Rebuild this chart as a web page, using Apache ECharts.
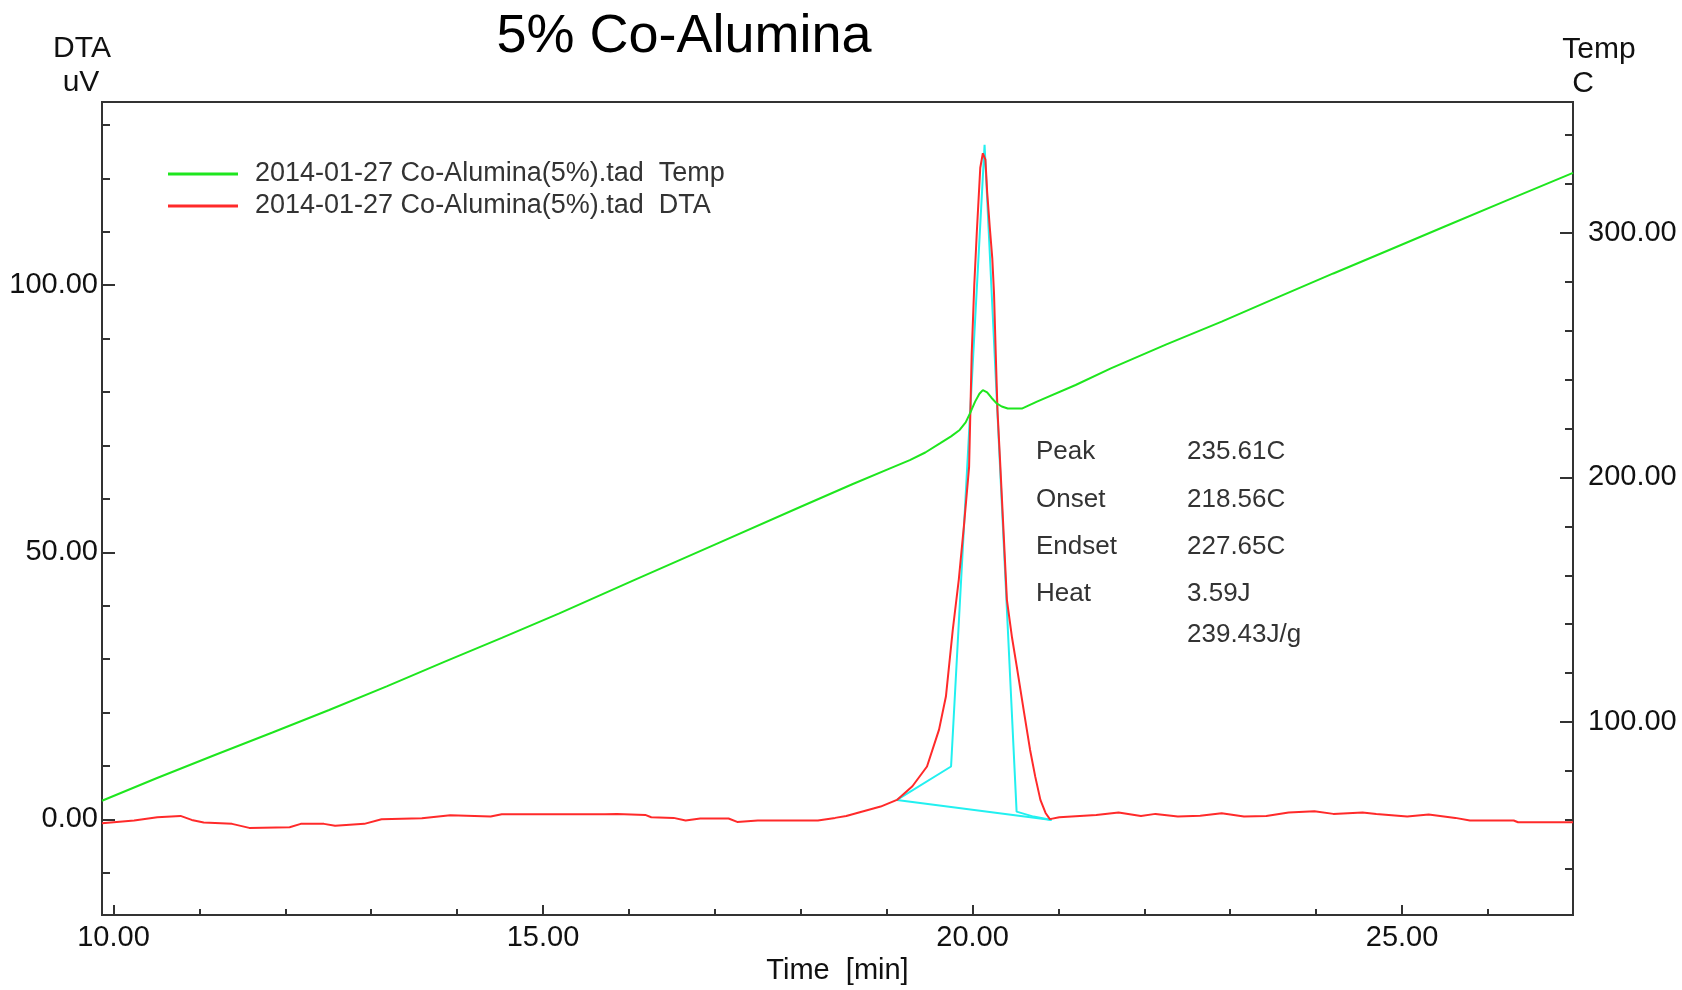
<!DOCTYPE html>
<html>
<head>
<meta charset="utf-8">
<script src="https://cdn.jsdelivr.net/npm/echarts@6/dist/echarts.min.js"></script>
<style>
html,body{margin:0;padding:0;background:#fff;}
#chart{width:1682px;height:990px;}
</style>
</head>
<body>
<div id="chart"></div>
<script>
// ---- data ----
const titleText = '5% Co-Alumina';
const tempName = '2014-01-27 Co-Alumina(5%).tad  Temp';
const dtaName = '2014-01-27 Co-Alumina(5%).tad  DTA';

// Temperature [time(min), C]
const tempPoints = [
  [9.866, 67.8], [10.5, 77.0], [11.18, 86.5], [11.85, 95.7], [12.51, 104.9],
  [13.18, 114.6], [13.85, 124.6], [14.52, 134.4], [15.19, 144.4], [16.06, 158.0],
  [17.0, 172.5], [18.0, 188.0], [18.6, 197.2], [19.04, 203.7], [19.27, 207.1],
  [19.45, 210.2], [19.62, 213.9], [19.75, 216.8], [19.85, 219.4], [19.92, 222.5],
  [19.97, 226.2], [20.03, 231.0], [20.08, 234.2], [20.12, 235.7], [20.17, 234.8],
  [20.22, 232.6], [20.28, 230.3], [20.34, 229.0], [20.41, 228.2], [20.58, 228.2],
  [20.75, 231.0], [21.2, 237.8], [21.61, 244.6], [22.25, 254.3], [22.90, 263.7],
  [23.55, 273.6], [24.20, 283.4], [24.85, 293.0], [25.49, 302.5], [26.2, 313.0],
  [26.99, 324.5]
];

// DTA [time(min), uV]
const dtaPoints = [
  [9.866, -0.72], [10.24, -0.22], [10.51, 0.41], [10.78, 0.65], [10.91, -0.1],
  [11.05, -0.6], [11.38, -0.84], [11.58, -1.59], [12.05, -1.46], [12.18, -0.84],
  [12.45, -0.84], [12.58, -1.2], [12.92, -0.84], [13.12, 0.04], [13.59, 0.22],
  [13.92, 0.78], [14.39, 0.53], [14.52, 0.97], [15.72, 0.97], [15.86, 1.03],
  [16.19, 0.84], [16.26, 0.41], [16.52, 0.28], [16.66, -0.22], [16.83, 0.16],
  [17.16, 0.16], [17.26, -0.47], [17.50, -0.22], [18.20, -0.22], [18.40, 0.28],
  [18.53, 0.65], [18.73, 1.53], [18.93, 2.4], [19.12, 3.65], [19.30, 6.2],
  [19.47, 9.9], [19.61, 16.8], [19.69, 23.0], [19.77, 35.5], [19.84, 44.9],
  [19.90, 55.0], [19.96, 66.0], [19.99, 87.0], [20.02, 100.0], [20.05, 110.0],
  [20.09, 122.0], [20.12, 124.7], [20.15, 123.5], [20.17, 117.5], [20.20, 111.0],
  [20.23, 105.0], [20.25, 98.5], [20.27, 87.3], [20.29, 76.7], [20.32, 67.3],
  [20.40, 41.1], [20.46, 34.0], [20.515, 28.6], [20.60, 20.0], [20.67, 13.0],
  [20.73, 8.0], [20.79, 3.65], [20.85, 1.2], [20.90, 0.05], [21.01, 0.4],
  [21.44, 0.84], [21.70, 1.28], [21.96, 0.65], [22.13, 1.03], [22.39, 0.53],
  [22.65, 0.7], [22.90, 1.16], [23.16, 0.53], [23.42, 0.65], [23.68, 1.28],
  [23.98, 1.53], [24.20, 1.03], [24.54, 1.28], [24.70, 1.03], [25.06, 0.53],
  [25.31, 0.9], [25.62, 0.28], [25.79, -0.2], [26.30, -0.2], [26.35, -0.53],
  [26.99, -0.53]
];

// Peak analysis construction lines (cyan)
const peakConstruction = [[19.12, 3.65], [19.75, 9.9], [20.14, 126.3], [20.513, 1.46], [20.71, 0.52], [20.92, -0.1]];
const peakBaseline = [[19.12, 3.65], [20.92, -0.1]];

// Axis ranges and ticks
const xRange = [9.866, 26.99];
const dtaRange = [-17.9, 134.3];
const tempRange = [21.1, 353.5];
const xMajorTicks = [10, 15, 20, 25];
const xMinorTicks = [11, 12, 13, 14, 16, 17, 18, 19, 21, 22, 23, 24, 26];
const dtaMajorTicks = [0, 50, 100];
const dtaMinorTicks = [-10, 10, 20, 30, 40, 60, 70, 80, 90, 110, 120, 130];
const tempMajorTicks = [100, 200, 300];
const tempMinorTicks = [40, 60, 80, 120, 140, 160, 180, 220, 240, 260, 280, 320, 340];

// Peak analysis results
const resultLabels = ['Peak', 'Onset', 'Endset', 'Heat', ''];
const resultValues = ['235.61C', '218.56C', '227.65C', '3.59J', '239.43J/g'];

// ---- chart ----
const FONT = '"Liberation Sans", Arial, sans-serif';
const axisColor = '#333';
const chart = echarts.init(document.getElementById('chart'), null, {renderer: 'canvas'});

function majorAxis(extra) {
  return Object.assign({
    type: 'value',
    axisLine: {show: true, onZero: false, lineStyle: {color: axisColor, width: 2}},
    splitLine: {show: false},
  }, extra);
}

const resultGraphics = [];
const rowY = [453, 501, 548, 595, 636];
resultLabels.forEach((lab, i) => {
  resultGraphics.push({type: 'text', left: 1036, top: rowY[i] - 14,
    style: {text: lab, font: '26px ' + FONT, fill: '#333'}});
  resultGraphics.push({type: 'text', left: 1187, top: rowY[i] - 14,
    style: {text: resultValues[i], font: '26px ' + FONT, fill: '#333'}});
});

const option = {
  animation: false,
  backgroundColor: '#fff',
  grid: {left: 102, right: 109, top: 102, bottom: 75, show: true, borderColor: axisColor, borderWidth: 2,
         backgroundColor: 'transparent', outerBoundsMode: 'none', containLabel: false},
  legend: {
    data: [tempName, dtaName],
    orient: 'vertical', left: 163, top: 153, itemGap: 0,
    itemWidth: 70, itemHeight: 3, icon: 'rect',
    textStyle: {fontFamily: FONT, fontSize: 27, color: '#333', lineHeight: 32, padding: [0, 0, 0, 12]},
    selectedMode: false
  },
  graphic: [
    {type: 'text', x: 684, y: 37, style: {text: titleText, font: '54px ' + FONT, fill: '#000', align: 'center', verticalAlign: 'middle'}},
    {type: 'text', x: 82, y: 49, style: {text: 'DTA', font: '30px ' + FONT, fill: '#111', align: 'center', verticalAlign: 'middle'}},
    {type: 'text', x: 81, y: 83, style: {text: 'uV', font: '30px ' + FONT, fill: '#111', align: 'center', verticalAlign: 'middle'}},
    {type: 'text', x: 1599, y: 50, style: {text: 'Temp', font: '30px ' + FONT, fill: '#111', align: 'center', verticalAlign: 'middle'}},
    {type: 'text', x: 1583, y: 84, style: {text: 'C', font: '30px ' + FONT, fill: '#111', align: 'center', verticalAlign: 'middle'}}
  ].concat(resultGraphics),
  xAxis: [
    majorAxis({
      min: xRange[0], max: xRange[1], position: 'bottom',
      name: 'Time  [min]', nameLocation: 'middle', nameGap: 41,
      nameTextStyle: {fontFamily: FONT, fontSize: 29, color: '#111'},
      axisTick: {show: true, inside: true, length: 10, customValues: xMajorTicks, lineStyle: {color: axisColor, width: 2}},
      axisLabel: {show: true, customValues: xMajorTicks, formatter: v => v.toFixed(2), fontFamily: FONT, fontSize: 29, color: '#111', margin: 8}
    }),
    majorAxis({
      min: xRange[0], max: xRange[1], position: 'bottom',
      axisLine: {show: false, onZero: false},
      axisTick: {show: true, inside: true, length: 6, customValues: xMinorTicks, lineStyle: {color: axisColor, width: 2}},
      axisLabel: {show: false}
    })
  ],
  yAxis: [
    majorAxis({
      min: dtaRange[0], max: dtaRange[1], position: 'left',
      axisTick: {show: true, inside: true, length: 13, customValues: dtaMajorTicks, lineStyle: {color: axisColor, width: 2}},
      axisLabel: {show: true, customValues: dtaMajorTicks, formatter: v => v.toFixed(2), fontFamily: FONT, fontSize: 29, color: '#111', margin: 4}
    }),
    majorAxis({
      min: tempRange[0], max: tempRange[1], position: 'right',
      axisTick: {show: true, inside: true, length: 13, customValues: tempMajorTicks, lineStyle: {color: axisColor, width: 2}},
      axisLabel: {show: true, customValues: tempMajorTicks, formatter: v => v.toFixed(2), fontFamily: FONT, fontSize: 29, color: '#111', margin: 15}
    }),
    majorAxis({
      min: dtaRange[0], max: dtaRange[1], position: 'left',
      axisLine: {show: false, onZero: false},
      axisTick: {show: true, inside: true, length: 8, customValues: dtaMinorTicks, lineStyle: {color: axisColor, width: 2}},
      axisLabel: {show: false}
    }),
    majorAxis({
      min: tempRange[0], max: tempRange[1], position: 'right',
      axisLine: {show: false, onZero: false},
      axisTick: {show: true, inside: true, length: 8, customValues: tempMinorTicks, lineStyle: {color: axisColor, width: 2}},
      axisLabel: {show: false}
    })
  ],
  series: [
    {name: 'baseline', type: 'line', data: peakBaseline, xAxisIndex: 0, yAxisIndex: 0, showSymbol: false, silent: true,
     lineStyle: {color: '#22f0f0', width: 2}, z: 1},
    {name: 'construction', type: 'line', data: peakConstruction, xAxisIndex: 0, yAxisIndex: 0, showSymbol: false, silent: true,
     lineStyle: {color: '#22f0f0', width: 2}, z: 1},
    {name: tempName, type: 'line', data: tempPoints, xAxisIndex: 0, yAxisIndex: 1, showSymbol: false,
     lineStyle: {color: '#1ee61e', width: 2}, itemStyle: {color: '#1ee61e'}, z: 3},
    {name: dtaName, type: 'line', data: dtaPoints, xAxisIndex: 0, yAxisIndex: 0, showSymbol: false,
     lineStyle: {color: '#ff2a2a', width: 2}, itemStyle: {color: '#ff2a2a'}, z: 2}
  ]
};
chart.setOption(option);
</script>
</body>
</html>
